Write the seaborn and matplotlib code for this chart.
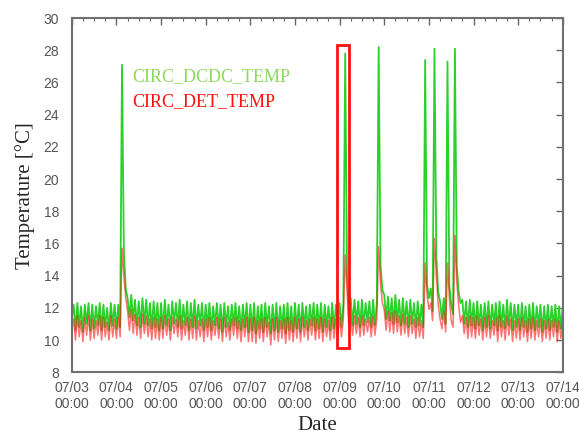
import pandas as pd
import matplotlib
matplotlib.use("Agg")
import matplotlib.pyplot as plt
import matplotlib.dates as mdates
from matplotlib.patches import Rectangle
import seaborn as sns

# hourly samples, one list per day (07/03 00:00 ... 07/13 23:00) + last point 07/14 00:00
dcdc_0703 = [11.4, 12.2, 10.6, 12.3, 10.8, 12.1, 10.5, 12.2, 11.0, 12.3, 10.6, 12.2, 10.7, 12.1, 10.9, 12.3, 10.6, 12.2, 10.8, 12.0, 10.6, 12.3, 10.9, 12.2]
dcdc_0704 = [10.7, 12.2, 10.8, 27.1, 15.4, 13.2, 12.6, 11.4, 12.8, 11.2, 12.5, 10.9, 12.4, 10.8, 12.6, 11.0, 12.5, 10.9, 12.3, 10.7, 12.4, 10.8, 12.3, 10.6]
dcdc_0705 = [12.3, 10.7, 12.5, 10.9, 12.2, 10.6, 12.4, 11.0, 12.3, 10.8, 12.5, 10.7, 12.2, 10.9, 12.4, 10.6, 12.3, 10.8, 12.5, 10.7, 12.2, 10.9, 12.3, 10.6]
dcdc_0706 = [12.2, 10.8, 12.3, 10.6, 12.1, 10.9, 12.3, 10.7, 12.2, 10.5, 12.3, 10.8, 12.1, 10.6, 12.2, 10.9, 12.3, 10.7, 12.1, 10.6, 12.2, 10.8, 12.3, 10.5]
dcdc_0707 = [12.2, 10.6, 12.3, 10.4, 12.1, 10.7, 12.2, 10.5, 12.3, 10.8, 12.1, 10.4, 12.2, 10.6, 12.3, 10.5, 12.1, 10.7, 12.2, 10.4, 12.3, 10.6, 12.1, 10.5]
dcdc_0708 = [12.3, 10.7, 12.2, 10.5, 12.3, 10.8, 12.1, 10.6, 12.2, 10.9, 12.3, 10.6, 12.2, 10.7, 12.3, 10.5, 12.2, 10.8, 12.1, 10.6, 12.3, 10.7, 12.2, 10.9]
dcdc_0709 = [12.3, 10.8, 12.2, 27.8, 14.2, 11.4, 12.6, 10.9, 12.5, 11.0, 12.4, 10.8, 12.5, 10.9, 12.3, 11.1, 12.4, 10.8, 12.5, 10.9, 12.3, 28.2, 14.6, 13.1]
dcdc_0710 = [12.8, 11.3, 12.7, 11.2, 12.6, 11.0, 12.8, 11.1, 12.5, 10.9, 12.6, 11.0, 12.4, 10.8, 12.5, 11.0, 12.3, 10.8, 12.4, 10.9, 12.2, 10.8, 27.4, 13.5]
dcdc_0711 = [12.6, 13.2, 11.8, 28.1, 15.2, 13.0, 12.4, 11.3, 12.6, 11.0, 27.3, 13.4, 12.2, 11.6, 28.1, 14.6, 13.0, 12.3, 12.5, 11.0, 12.4, 10.8, 12.5, 10.9]
dcdc_0712 = [12.3, 10.7, 12.4, 10.9, 12.2, 10.6, 12.3, 10.8, 12.4, 10.7, 12.2, 10.9, 12.3, 10.6, 12.4, 10.8, 12.2, 10.7, 12.5, 10.9, 12.3, 10.6, 12.2, 10.8]
dcdc_0713 = [12.2, 10.6, 12.3, 10.8, 12.1, 10.5, 12.2, 10.7, 12.3, 10.6, 12.1, 10.8, 12.2, 10.5, 12.1, 10.7, 12.2, 10.6, 12.1, 10.8, 12.2, 10.5, 12.1, 10.7]
dcdc_0714 = [12.1]

det_0703 = [10.6, 11.3, 10.0, 11.5, 10.2, 11.2, 9.9, 11.4, 10.3, 11.5, 10.0, 11.3, 10.1, 11.2, 10.3, 11.5, 10.0, 11.4, 10.2, 11.1, 10.0, 11.5, 10.2, 11.3]
det_0704 = [10.1, 11.4, 10.2, 15.7, 14.0, 12.6, 11.8, 10.6, 11.9, 10.4, 11.6, 10.3, 11.4, 10.1, 11.6, 10.4, 11.5, 10.2, 11.3, 10.0, 11.4, 10.1, 11.3, 10.0]
det_0705 = [11.4, 10.1, 11.5, 10.3, 11.3, 10.0, 11.4, 10.4, 11.3, 10.2, 11.5, 10.0, 11.2, 10.3, 11.4, 10.0, 11.3, 10.1, 11.5, 10.0, 11.2, 10.2, 11.3, 9.9]
det_0706 = [11.3, 10.2, 11.4, 10.0, 11.2, 10.3, 11.4, 10.1, 11.3, 9.9, 11.4, 10.2, 11.1, 10.0, 11.3, 10.3, 11.4, 10.1, 11.2, 9.9, 11.3, 10.2, 11.4, 9.9]
det_0707 = [11.3, 9.9, 11.4, 9.8, 11.2, 10.1, 11.3, 9.9, 11.4, 10.2, 11.1, 9.7, 11.3, 10.0, 11.4, 9.9, 11.2, 10.1, 11.3, 9.8, 11.4, 10.0, 11.2, 9.9]
det_0708 = [11.4, 10.1, 11.3, 9.9, 11.4, 10.2, 11.2, 10.0, 11.3, 10.3, 11.4, 10.0, 11.3, 10.1, 11.4, 9.9, 11.3, 10.2, 11.2, 10.0, 11.4, 10.1, 11.3, 10.3]
det_0709 = [11.4, 10.2, 11.3, 15.3, 13.1, 10.6, 11.5, 10.3, 11.5, 10.4, 11.4, 10.2, 11.5, 10.3, 11.3, 10.5, 11.4, 10.2, 11.5, 10.3, 11.3, 15.8, 13.5, 12.3]
det_0710 = [11.9, 10.6, 11.8, 10.5, 11.7, 10.4, 11.8, 10.5, 11.5, 10.3, 11.6, 10.4, 11.4, 10.2, 11.5, 10.4, 11.3, 10.1, 11.4, 10.2, 11.2, 10.1, 14.8, 12.8]
det_0711 = [11.9, 12.3, 11.2, 16.3, 14.0, 12.2, 11.3, 10.7, 11.8, 10.5, 14.8, 12.6, 11.2, 10.8, 16.5, 13.6, 12.2, 11.1, 11.5, 10.4, 11.4, 10.1, 11.5, 10.2]
det_0712 = [11.4, 10.1, 11.5, 10.3, 11.3, 10.0, 11.4, 10.2, 11.5, 10.1, 11.2, 10.3, 11.4, 9.9, 11.5, 10.2, 11.2, 10.0, 11.5, 10.3, 11.3, 9.9, 11.2, 10.1]
det_0713 = [11.3, 10.0, 11.4, 10.2, 11.2, 9.9, 11.3, 10.1, 11.4, 10.0, 11.2, 10.2, 11.3, 9.9, 11.2, 10.1, 11.3, 10.0, 11.2, 10.2, 11.3, 9.9, 11.2, 10.1]
det_0714 = [11.2]

dcdc = (dcdc_0703 + dcdc_0704 + dcdc_0705 + dcdc_0706 + dcdc_0707 + dcdc_0708
        + dcdc_0709 + dcdc_0710 + dcdc_0711 + dcdc_0712 + dcdc_0713 + dcdc_0714)
det = (det_0703 + det_0704 + det_0705 + det_0706 + det_0707 + det_0708
       + det_0709 + det_0710 + det_0711 + det_0712 + det_0713 + det_0714)

start = "2013-07-03 00:00"
end = "2013-07-14 00:00"
times = pd.date_range(start, periods=len(dcdc), freq="h")
df = pd.DataFrame({"Date": times, "CIRC_DCDC_TEMP": dcdc, "CIRC_DET_TEMP": det})

sns.set_style("white")
plt.rcParams["font.family"] = ["Liberation Sans", "DejaVu Sans"]
serif = ["Liberation Serif", "DejaVu Serif"]

fig, ax = plt.subplots(figsize=(5.79, 4.41), dpi=100)
fig.subplots_adjust(left=0.124, right=0.972, top=0.959, bottom=0.156)

sns.lineplot(data=df, x="Date", y="CIRC_DCDC_TEMP", ax=ax, color="#2bd12b",
             linewidth=1.3, estimator=None)
sns.lineplot(data=df, x="Date", y="CIRC_DET_TEMP", ax=ax, color="#ff0000",
             linewidth=1.1, alpha=0.55, estimator=None)

# highlight box around the 07/09 event
x0 = mdates.date2num(pd.Timestamp("2013-07-08 22:50"))
x1 = mdates.date2num(pd.Timestamp("2013-07-09 04:50"))
ax.add_patch(Rectangle((x0, 9.5), x1 - x0, 18.8, fill=False, edgecolor="#ff1010", linewidth=2.0, zorder=5))

ax.set_xlim(pd.Timestamp(start), pd.Timestamp(end))
ax.set_ylim(8, 30)
ax.set_yticks(range(8, 31, 2))
ax.xaxis.set_major_locator(mdates.DayLocator())
ax.xaxis.set_minor_locator(mdates.HourLocator(byhour=[6, 12, 18]))
ax.xaxis.set_major_formatter(mdates.DateFormatter("%m/%d\n%H:%M"))

ax.tick_params(which="both", direction="in", top=True, right=True, color="#666666",
               labelcolor="#555555", labelsize=10)
ax.tick_params(which="major", length=5, width=1)
ax.tick_params(which="minor", length=2.5, width=0.8)
ax.tick_params(axis="y", pad=9)
ax.tick_params(axis="x", pad=6)
for sp in ax.spines.values():
    sp.set_color("#707070")
    sp.set_linewidth(1.5)

ax.set_xlabel("Date", family=serif, fontsize=15, labelpad=4)
ax.set_ylabel("Temperature [°C]", family=serif, fontsize=15, labelpad=6)

ax.text(0.124, 0.836, "CIRC_DCDC_TEMP", transform=ax.transAxes, color="#90d860",
        family=serif, fontsize=13, va="center")
ax.text(0.124, 0.763, "CIRC_DET_TEMP", transform=ax.transAxes, color="#ff1010",
        family=serif, fontsize=13, va="center")

fig.savefig("out.png", dpi=100)
